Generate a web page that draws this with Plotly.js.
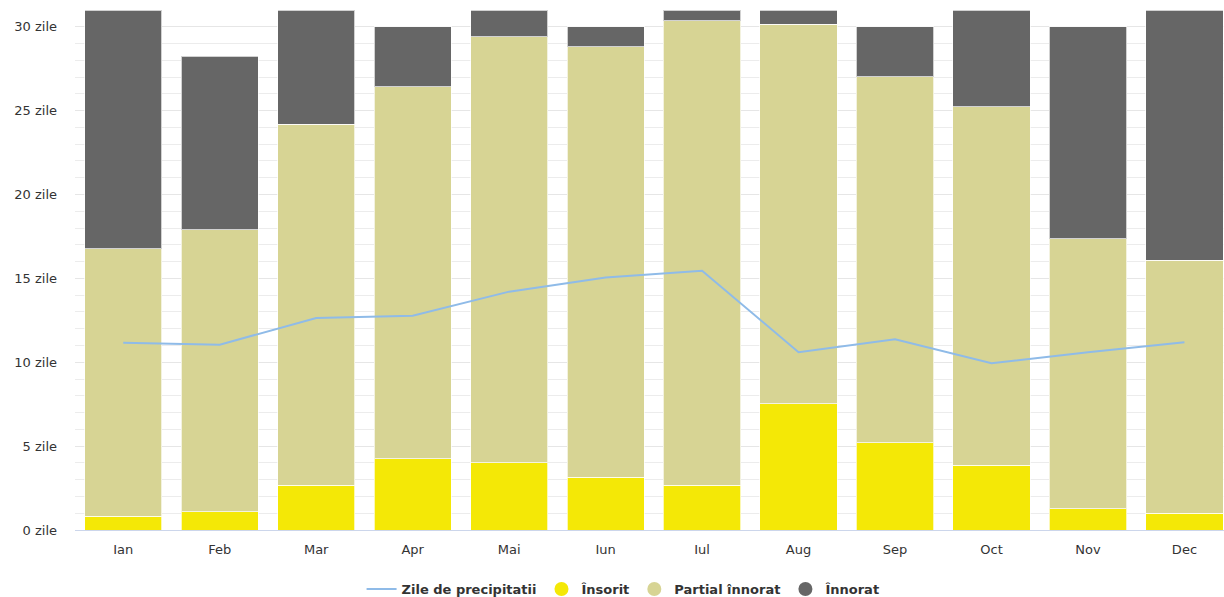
<!DOCTYPE html>
<html>
<head>
<meta charset="utf-8">
<script src="https://cdn.plot.ly/plotly-3.0.1.min.js"></script>
<style>html,body{margin:0;padding:0;background:#fff;} #chart{width:1224px;height:597px;}</style>
</head>
<body>
<div id="chart"></div>
<script>
const months = ["Ian","Feb","Mar","Apr","Mai","Iun","Iul","Aug","Sep","Oct","Nov","Dec"];
const sunny = [0.83, 1.1, 2.66, 4.25, 4.0, 3.14, 2.68, 7.53, 5.2, 3.87, 1.27, 0.99];
const partly = [15.93, 16.8, 21.53, 22.17, 25.42, 25.68, 27.69, 22.62, 21.83, 21.37, 16.08, 15.09];
const cloudy = [14.24, 10.35, 6.81, 3.58, 1.58, 1.18, 0.63, 0.85, 2.97, 5.76, 12.65, 14.92];
const precip = [11.17, 11.05, 12.64, 12.78, 14.21, 15.05, 15.46, 10.6, 11.37, 9.94, 10.6, 11.19];
const yTicks = [0, 5, 10, 15, 20, 25, 30];
const yTickText = yTicks.map(v => v + " zile");
const names = {line: "Zile de precipitatii", sunny: "Însorit", partly: "Partial înnorat", cloudy: "Înnorat"};
const colors = {line: "#8fbbe8", sunny: "#f4e806", partly: "#d7d494", cloudy: "#666666"};

const barLine = {color: "rgba(255,255,255,0.7)", width: 1};
const traces = [
  {type: "bar", x: months, y: sunny, name: names.sunny, marker: {color: colors.sunny, line: barLine}, showlegend: false, hoverinfo: "y+name"},
  {type: "bar", x: months, y: partly, name: names.partly, marker: {color: colors.partly, line: barLine}, showlegend: false, hoverinfo: "y+name"},
  {type: "bar", x: months, y: cloudy, name: names.cloudy, marker: {color: colors.cloudy, line: barLine}, showlegend: false, hoverinfo: "y+name"},
  {type: "scatter", mode: "lines", x: months, y: precip, name: names.line, line: {color: colors.line, width: 2}},
  {type: "scatter", mode: "markers", x: [null], y: [null], name: names.sunny, marker: {color: colors.sunny, size: 14, symbol: "circle"}},
  {type: "scatter", mode: "markers", x: [null], y: [null], name: names.partly, marker: {color: colors.partly, size: 14, symbol: "circle"}},
  {type: "scatter", mode: "markers", x: [null], y: [null], name: names.cloudy, marker: {color: colors.cloudy, size: 14, symbol: "circle"}}
];

const layout = {
  width: 1224, height: 597,
  margin: {l: 75, r: 0, t: 10, b: 67, autoexpand: false},
  barmode: "stack",
  bargap: 0.2,
  paper_bgcolor: "#ffffff",
  plot_bgcolor: "#ffffff",
  font: {family: "DejaVu Sans, sans-serif", size: 13, color: "#333333"},
  showlegend: true,
  legend: {orientation: "h", x: 0.477, xanchor: "center", y: -0.1135, yanchor: "middle",
           font: {size: 13, color: "#333333", weight: "bold"}, traceorder: "normal", itemwidth: 30},
  xaxis: {type: "category", range: [-0.5, 11.41], showgrid: false, zeroline: false,
          showline: true, linecolor: "#ccd6eb", linewidth: 1, ticks: "", fixedrange: true,
          ticklabelstandoff: 7,
          tickfont: {size: 13, color: "#333333"}},
  yaxis: {range: [0, 31], tickvals: yTicks, ticktext: yTickText, showgrid: true, gridcolor: "#e6e6e6",
          gridwidth: 1, zeroline: false, showline: false, ticks: "", fixedrange: true,
          ticklabelstandoff: 17,
          tickfont: {size: 13, color: "#333333"},
          minor: {dtick: 1, showgrid: true, gridcolor: "#ececec", gridwidth: 1, tick0: 0}}
};

Plotly.newPlot("chart", traces, layout, {displayModeBar: false, staticPlot: true});
</script>
</body>
</html>
